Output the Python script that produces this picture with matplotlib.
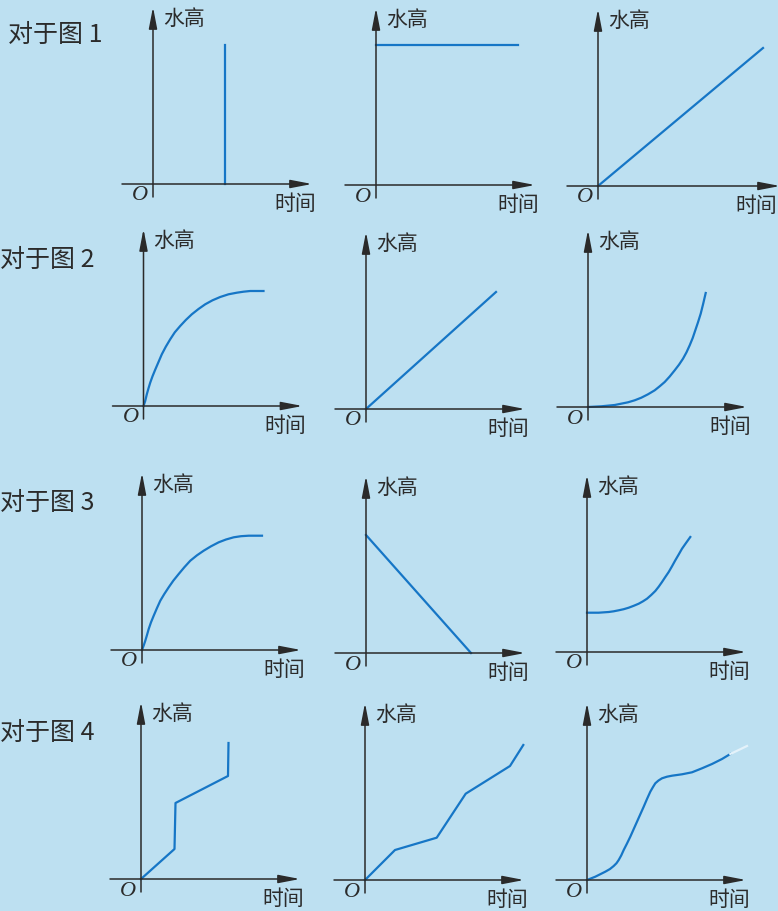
import matplotlib
matplotlib.use('Agg')
import matplotlib.pyplot as plt

plt.rcParams['font.family'] = ['Noto Sans CJK SC', 'DejaVu Sans']

# text
row_labels = ['对于图 1', '对于图 2', '对于图 3', '对于图 4']
y_label = '水高'
x_label = '时间'
origin_label = 'O'

# curves (time, water height)
fig1_a_t = [7.2, 7.2]
fig1_a_h = [0.0, 13.9]
fig1_b_t = [0.0, 14.2]
fig1_b_h = [14.0, 14.0]
fig1_c_t = [0.0, 16.5]
fig1_c_h = [0.0, 13.8]

fig2_a_t = [0.0, 0.17, 0.33, 0.5, 0.67, 0.9, 1.17, 1.5, 1.83, 2.23, 2.67, 3.13, 3.67,
            4.23, 4.83, 5.5, 6.17, 6.9, 7.67, 8.5, 9.33, 10.0, 10.67, 12.0]
fig2_a_h = [0.0, 0.5, 1.17, 1.77, 2.33, 2.97, 3.63, 4.4, 5.17, 5.93, 6.67, 7.37, 8.0,
            8.6, 9.17, 9.7, 10.17, 10.57, 10.9, 11.17, 11.33, 11.43, 11.5, 11.5]
fig2_b_t = [0.0, 13.0]
fig2_b_h = [0.0, 11.7]
fig2_c_t = [0.0, 1.33, 2.67, 4.0, 4.67, 5.33, 6.0, 6.67, 7.17, 7.67, 8.17, 8.67, 9.1,
            9.5, 9.85, 10.17, 10.47, 10.73, 11.0, 11.27, 11.52, 11.77]
fig2_c_h = [0.0, 0.07, 0.2, 0.47, 0.67, 0.93, 1.27, 1.67, 2.07, 2.5, 3.05, 3.67, 4.23,
            4.83, 5.47, 6.17, 6.9, 7.67, 8.47, 9.33, 10.33, 11.4]

fig3_a_t = [0.0, 0.17, 0.33, 0.5, 0.67, 0.9, 1.17, 1.5, 1.83, 2.23, 2.67, 3.13, 3.67,
            4.23, 4.83, 5.5, 6.17, 6.9, 7.67, 8.4, 9.17, 9.9, 10.67, 12.0]
fig3_a_h = [0.0, 0.45, 0.93, 1.5, 2.1, 2.77, 3.43, 4.2, 4.93, 5.6, 6.27, 6.93, 7.6,
            8.27, 8.93, 9.47, 9.93, 10.37, 10.77, 11.05, 11.27, 11.38, 11.43, 11.43]
fig3_b_t = [0.0, 10.5]
fig3_b_h = [11.8, 0.0]
fig3_c_t = [0.0, 1.17, 2.17, 2.67, 3.17, 3.67, 4.17, 4.67, 5.17, 5.6, 6.0, 6.42, 6.83,
            7.17, 7.5, 7.83, 8.17, 8.5, 8.83, 9.17, 9.5, 9.9, 10.33]
fig3_c_h = [3.93, 3.93, 4.0, 4.07, 4.17, 4.28, 4.43, 4.62, 4.83, 5.07, 5.33, 5.7, 6.1,
            6.53, 7.0, 7.5, 8.0, 8.57, 9.17, 9.75, 10.33, 10.9, 11.5]

fig4_a_t = [0.0, 3.35, 3.45, 8.7, 8.75]
fig4_a_h = [0.0, 3.0, 7.6, 10.3, 13.6]
fig4_b_t = [0.0, 3.0, 7.17, 10.07, 14.5, 15.83]
fig4_b_h = [0.0, 3.0, 4.23, 8.63, 11.4, 13.5]
fig4_c_t = [0.0, 0.83, 1.83, 2.3, 2.67, 2.95, 3.17, 3.42, 3.67, 4.0, 4.33, 5.0, 5.67,
            6.0, 6.33, 6.6, 6.83, 7.15, 7.5, 8.0, 8.5, 9.5, 10.5, 11.5, 12.5, 13.5,
            14.33]
fig4_c_h = [0.0, 0.33, 0.83, 1.1, 1.4, 1.68, 2.0, 2.45, 3.0, 3.65, 4.33, 5.83, 7.33,
            8.1, 8.83, 9.3, 9.67, 9.95, 10.17, 10.33, 10.43, 10.57, 10.77, 11.17,
            11.6, 12.1, 12.6]
fig4_c_tail_t = [14.33, 16.0]
fig4_c_tail_h = [12.6, 13.4]

curves = [
    [(fig1_a_t, fig1_a_h), (fig1_b_t, fig1_b_h), (fig1_c_t, fig1_c_h)],
    [(fig2_a_t, fig2_a_h), (fig2_b_t, fig2_b_h), (fig2_c_t, fig2_c_h)],
    [(fig3_a_t, fig3_a_h), (fig3_b_t, fig3_b_h), (fig3_c_t, fig3_c_h)],
    [(fig4_a_t, fig4_a_h), (fig4_b_t, fig4_b_h), (fig4_c_t, fig4_c_h)],
]

# layout (pixels of the 778x911 picture)
W, H = 778, 911
origins = [[(153, 184), (376, 185), (598, 186)],
           [(143.5, 406), (366, 409), (588, 407)],
           [(142, 650), (366, 653), (587, 652)],
           [(141, 879), (365, 880), (587, 880)]]
row_label_pos = [(8, 35), (0, 260), (0, 503), (0, 733)]

bg = '#bde0f1'
blue = '#1676c6'
dark = '#2a2a2a'
ink = '#2b2b2b'

fig = plt.figure(figsize=(W / 100, H / 100), dpi=100)
fig.patch.set_facecolor(bg)

arrow = dict(arrowstyle='-|>,head_length=1.3,head_width=0.25', mutation_scale=10,
             color=dark, lw=1.1, shrinkA=0, shrinkB=0)

for r in range(4):
    lx, ly = row_label_pos[r]
    fig.text(lx / W, 1 - ly / H, row_labels[r], fontsize=18, color=ink,
             ha='left', va='center')
    for c in range(3):
        ox, oy = origins[r][c]
        ax = fig.add_axes([(ox - 40) / W, 1 - (oy + 35) / H, 230 / W, 220 / H])
        ax.set_xlim(-4, 19)
        ax.set_ylim(-3.5, 18.5)
        ax.axis('off')

        x_end = 18.2 if (r == 0 and c == 2) else 15.9
        ax.annotate('', xy=(x_end, 0), xytext=(-3.1, 0), arrowprops=arrow,
                    annotation_clip=False)
        ax.annotate('', xy=(0, 17.7), xytext=(0, -1.3), arrowprops=arrow,
                    annotation_clip=False)

        t, h = curves[r][c]
        ax.plot(t, h, color=blue, lw=1.6, solid_joinstyle='round', clip_on=False)
        if r == 3 and c == 2:
            ax.plot(fig4_c_tail_t, fig4_c_tail_h, color='#e4f2fa', lw=1.6,
                    clip_on=False)

        ax.text(1.0, 16.5, y_label, fontsize=15, color=ink,
                ha='left', va='center')
        tx = 13.7 if (r == 0 and c == 2) else 12.1
        ax.text(tx, -2.0, x_label, fontsize=15, color=ink,
                ha='left', va='center')
        ax.text(-1.3, -1.2, origin_label, fontsize=16, family='Liberation Serif',
                style='italic', color=ink, ha='center', va='center')

fig.savefig('out.png', dpi=100, facecolor=bg)
